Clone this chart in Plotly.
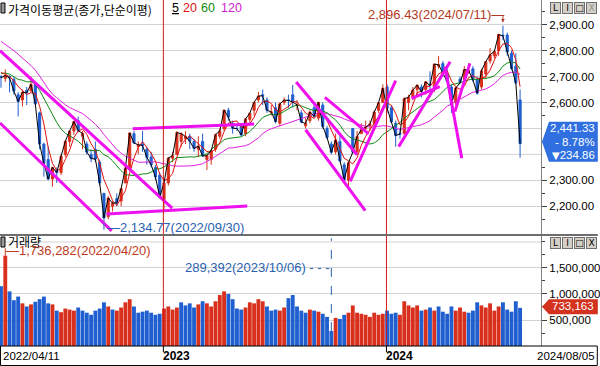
import pandas as pd
import plotly.graph_objects as go

# ---------------- data (weekly) ----------------
week_start = pd.date_range("2022-04-11", periods=122, freq="7D")

open_ = [2700,2693,2700,2690,2630,2610,2647,2645,2670,2560,2440,2380,2305,2340,2330,2400,2450,2490,2530,2470,
         2440,2400,2420,2370,2250,2160,2200,2230,2220,2290,2350,2480,2430,2440,2420,2390,2350,2320,
         2225,2290,2385,2400,2450,2460,2470,2450,2420,2450,2380,2380,2420,2470,2500,2570,2520,2500,2510,2480,
         2535,2570,2610,2630,2610,2560,2580,2520,2600,2610,2630,2590,2560,2510,2530,2580,2540,2590,2500,2440,
         2410,2450,2360,2300,2500,2410,2480,2500,2510,2520,2570,2600,
         2660,2580,2520,2480,2480,2600,2620,2650,2660,2650,2670,2660,2740,2750,2710,2660,2600,2690,2690,2720,
         2730,2690,2660,2710,2760,2780,2800,2860,2860,2790,2740,2610]
high = [2705,2728,2705,2697,2640,2650,2660,2700,2675,2565,2445,2430,2350,2350,2400,2451,2490,2530,2546,2490,
        2450,2420,2450,2380,2250,2240,2220,2250,2270,2360,2483,2490,2450,2490,2430,2410,2360,2330,
        2290,2390,2410,2490,2485,2490,2480,2460,2470,2480,2400,2420,2480,2500,2571,2580,2530,2510,2520,2540,
        2560,2600,2641,2650,2620,2590,2600,2600,2620,2630,2668,2610,2570,2540,2570,2590,2601,2600,2510,2450,
        2480,2470,2370,2370,2500,2490,2520,2530,2530,2570,2600,2670,
        2670,2590,2530,2500,2620,2630,2660,2670,2670,2680,2720,2750,2779,2760,2730,2670,2660,2700,2740,2752,
        2740,2700,2730,2760,2810,2800,2865,2896.43,2870,2800,2790,2650]
low = [2657,2680,2639,2630,2546,2585,2590,2640,2590,2420,2314,2300,2276,2290,2320,2390,2430,2475,2485,2420,
       2400,2370,2370,2280,2134.77,2150,2180,2200,2200,2290,2340,2440,2400,2410,2360,2350,2300,2230,
       2180,2280,2370,2400,2430,2440,2420,2410,2390,2390,2340,2360,2410,2460,2490,2530,2480,2490,2470,2470,
       2510,2550,2600,2590,2560,2550,2520,2510,2590,2580,2580,2570,2520,2500,2520,2540,2530,2500,2460,2400,
       2400,2370,2290,2273,2400,2400,2480,2490,2490,2500,2560,2600,
       2560,2520,2430,2460,2480,2570,2610,2630,2620,2630,2640,2640,2730,2700,2680,2560,2590,2670,2680,2710,
       2680,2630,2650,2690,2750,2770,2780,2840,2780,2725,2670,2387]
close = [2696,2704,2695,2644,2604,2639,2638,2670,2595,2440,2366,2305,2350,2330,2393,2451,2490,2527,2492,2481,
         2409,2384,2382,2290,2155,2232,2212,2213,2268,2348,2483,2444,2437,2434,2389,2360,2313,2236,
         2290,2386,2395,2484,2480,2469,2451,2423,2432,2394,2395,2414,2476,2490,2571,2544,2501,2500,2475,2537,
         2559,2601,2625,2626,2570,2564,2526,2595,2609,2608,2602,2591,2525,2519,2563,2547,2601,2508,2465,2408,
         2456,2375,2302,2368,2409,2469,2496,2505,2517,2563,2599,2655,
         2578,2525,2473,2478,2615,2620,2648,2667,2642,2680,2666,2748,2746,2714,2681,2591,2656,2676,2727,2724,
         2687,2636,2722,2758,2784,2797,2862,2857,2795,2731,2676,2441.33]
volume = [1150000,1736282,1050000,880000,950000,820000,760000,800000,850000,900000,950000,820000,800000,680000,
          650000,720000,700000,680000,740000,680000,640000,600000,680000,720000,840000,760000,700000,680000,
          740000,840000,900000,760000,640000,660000,680000,640000,600000,620000,
          720000,760000,700000,740000,840000,780000,820000,740000,800000,860000,820000,760000,860000,980000,
          1050000,1000000,900000,720000,700000,740000,840000,820000,900000,860000,760000,680000,700000,680000,
          740000,920000,980000,760000,680000,640000,700000,680000,660000,620000,560000,289392,540000,520000,
          600000,640000,780000,640000,620000,600000,560000,640000,600000,620000,
          680000,620000,640000,600000,860000,780000,740000,780000,680000,700000,740000,680000,760000,660000,
          620000,760000,680000,740000,660000,640000,680000,840000,780000,740000,820000,680000,760000,840000,
          700000,660000,860000,733163]
# closes of the 24 weeks before the visible window (for the moving averages)
pre_close = [2970,2969,2968,2971,2936,2968,3010,3017,3012,2977,2954,2921,2834,2663,2750,2747,2744,2676,
             2713,2661,2708,2729,2739,2700]
# hand-drawn trend lines (week index, price) -> (week index, price)
tl_x0 = [-0.23, -0.23, 24.6, 30.7, 68.8, 71.0, 75.5, 81.4, 92.7, 95.7, 103.5, 105.8]
tl_y0 = [2800, 2521, 2170, 2499, 2679, 2495, 2620, 2296, 2430, 2616, 2738, 2565]
tl_x1 = [39.9, 25.8, 57.4, 59.0, 83.0, 84.9, 85.7, 92.0, 104.7, 102.3, 107.4, 109.3]
tl_y1 = [2193, 2105, 2201, 2517, 2399, 2183, 2479, 2684, 2757, 2661, 2385, 2751]

price_ticks = [2200, 2300, 2600, 2700, 2800, 2900]     # labelled price ticks
hidden_price_grid = [2400, 2500]                        # grid rows behind the last-price box
hi_label = "2,896.43(2024/07/11)"
lo_label = "2,134.77(2022/09/30)"
vmax_label = "1,736,282(2022/04/20)"
vmin_label = "289,392(2023/10/06)"
last_info = ["2,441.33", "- 8.78%", "234.86"]
vol_last_label = "733,163"
date_first, date_last = "2022/04/11", "2024/08/05"
ma_names = ["5", "20", "60", "120"]
ma_windows = [1, 4, 12, 24]
ma_colors = ["#000000", "#e01010", "#108a10", "#e020e0"]

# ---------------- helpers ----------------
KFONT = "Noto Sans CJK KR"
NFONT = "Liberation Sans"
RED, BLUE = "#d8301c", "#1f5fcf"
PW, PH = 543, 346
P_TOP, P_BOT, V_TOP, V_BOT = 0, 234, 236, 346
PR = [2093.2, 2995.2]
VR = [0, 2.115e6]
XR = [-0.23, -0.23 + PW / 4.306]

def pxx(px):
    return px / PW

def pxy(py):
    return (PH - py) / PH

def price_py(p):
    return P_TOP + (PR[1] - p) / (PR[1] - PR[0]) * (P_BOT - P_TOP)

def vol_py(v):
    return V_TOP + (VR[1] - v) / (VR[1] - VR[0]) * (V_BOT - V_TOP)

idx = list(range(len(close)))
allc = pd.Series(pre_close + close, dtype=float)
npre = len(pre_close)
ma = [allc.rolling(w).mean().iloc[npre:].tolist() for w in ma_windows]

prev = [pre_close[-1]] + close[:-1]
vcol = [RED if c >= p else BLUE for c, p in zip(close, prev)]

years = list(week_start.year)
x2023 = idx[years.index(2023)] - 0.15
x2024 = idx[years.index(2024)] - 0.15

fig = go.Figure()
fig.add_trace(go.Candlestick(
    x=idx, open=open_, high=high, low=low, close=close, xaxis="x", yaxis="y",
    increasing=dict(line=dict(color=RED, width=1), fillcolor=RED),
    decreasing=dict(line=dict(color=BLUE, width=1), fillcolor=BLUE),
    hoverinfo="skip", showlegend=False))
for k in (3, 2, 1, 0):
    fig.add_trace(go.Scatter(x=idx, y=ma[k], mode="lines", line=dict(color=ma_colors[k], width=1),
                             xaxis="x", yaxis="y", hoverinfo="skip", showlegend=False))
tx, ty = [], []
for a, b, c, d in zip(tl_x0, tl_y0, tl_x1, tl_y1):
    tx += [a, c, None]
    ty += [b, d, None]
fig.add_trace(go.Scatter(x=tx, y=ty, mode="lines", line=dict(color="#ee10ee", width=3),
                         xaxis="x", yaxis="y", hoverinfo="skip", showlegend=False, cliponaxis=True))
fig.add_trace(go.Bar(x=idx, y=volume, marker=dict(color=vcol, line=dict(width=0)),
                     xaxis="x2", yaxis="y2", hoverinfo="skip", showlegend=False))

tickfont = dict(family=NFONT, size=11.5, color="black")
fig.update_layout(
    width=600, height=366, margin=dict(l=0, r=57, t=0, b=20),
    paper_bgcolor="white", plot_bgcolor="white", showlegend=False,
    boxgap=0.3, bargap=0.1, hovermode=False,
    font=dict(family=KFONT, size=12, color="black"),
    xaxis=dict(domain=[0, 1], range=XR, anchor="y", showticklabels=False, showgrid=False,
               zeroline=False, rangeslider=dict(visible=False)),
    xaxis2=dict(domain=[0, 1], range=XR, anchor="y2", matches="x", showticklabels=False,
                showgrid=False, zeroline=False),
    yaxis=dict(domain=[pxy(P_BOT), pxy(P_TOP)], range=PR, side="right", anchor="x",
               tickvals=price_ticks, tickformat=",.2f", ticks="outside",
               ticklen=5, tickcolor="#404040", showline=True, linecolor="#808080",
               showgrid=True, gridcolor="#d2d2d2", zeroline=False, tickfont=tickfont,
               minor=dict(tickvals=list(range(2150, 3000, 100)), ticks="outside", ticklen=3,
                          tickcolor="#404040", showgrid=False)),
    yaxis2=dict(domain=[pxy(V_BOT), pxy(V_TOP)], range=VR, side="right", anchor="x2",
                tickvals=[500000, 1000000, 1500000], tickformat=",", ticks="outside",
                ticklen=5, tickcolor="#404040", showline=True, linecolor="#808080",
                showgrid=True, gridcolor="#d2d2d2", zeroline=False, tickfont=tickfont,
                minor=dict(tickvals=[250000, 750000, 1250000, 1750000, 2000000], ticks="outside",
                           ticklen=3, tickcolor="#404040", showgrid=False)),
)

shapes = []
# grid rows whose labels are covered (2,000,000 by the buttons, 2,400/2,500 by the price box)
shapes.append(dict(type="line", xref="x2", yref="y2", x0=XR[0], x1=XR[1], y0=2.0e6, y1=2.0e6,
                   line=dict(color="#d2d2d2", width=1), layer="below"))
for gv in hidden_price_grid:
    shapes.append(dict(type="line", xref="x", yref="y", x0=XR[0], x1=XR[1], y0=gv, y1=gv,
                       line=dict(color="#d2d2d2", width=1), layer="below"))
for xv in (x2023, x2024):
    shapes.append(dict(type="line", xref="x", yref="paper", x0=xv, x1=xv, y0=0, y1=1,
                       line=dict(color="#d01818", width=1)))
    shapes.append(dict(type="line", xref="x", yref="paper", x0=xv, x1=xv, y0=pxy(346), y1=pxy(352),
                       line=dict(color="black", width=1)))
# separator between panels
shapes.append(dict(type="line", xref="paper", yref="paper", x0=0, x1=pxx(600), y0=pxy(235), y1=pxy(235),
                   line=dict(color="#6e6e6e", width=2)))
# date strip frame
shapes.append(dict(type="rect", xref="paper", yref="paper", x0=pxx(0.5), x1=pxx(599.5), y0=pxy(346),
                   y1=pxy(365.5), line=dict(color="black", width=1)))
# title icons
for ty0 in (3, 237):
    shapes.append(dict(type="rect", xref="paper", yref="paper", x0=pxx(1), x1=pxx(5), y0=pxy(ty0),
                       y1=pxy(ty0 + 10), line=dict(color="black", width=1), fillcolor="#9a9a9a"))
# last price box
yc = price_py(close[-1]) - 2
path = "M {} {} L {} {} L {} {} L {} {} L {} {} Z".format(
    pxx(544), pxy(yc), pxx(551), pxy(yc - 20), pxx(600), pxy(yc - 20), pxx(600), pxy(yc + 20),
    pxx(551), pxy(yc + 20))
shapes.append(dict(type="path", xref="paper", yref="paper", path=path, fillcolor="#2f6fe0",
                   line=dict(width=0), layer="above"))
yv = vol_py(volume[-1]) - 1
path = "M {} {} L {} {} L {} {} L {} {} L {} {} Z".format(
    pxx(544), pxy(yv), pxx(551), pxy(yv - 7.5), pxx(600), pxy(yv - 7.5), pxx(600), pxy(yv + 7.5),
    pxx(551), pxy(yv + 7.5))
shapes.append(dict(type="path", xref="paper", yref="paper", path=path, fillcolor="#d2321e",
                   line=dict(width=0), layer="above"))
# min volume dashed marker
wmin = volume.index(min(volume))
shapes.append(dict(type="line", xref="x2", yref="y2", x0=wmin, x1=wmin, y0=min(volume), y1=2.07e6,
                   line=dict(color="#2a62b0", width=1, dash="dash")))
fig.update_layout(shapes=shapes)

ann = []
ann.append(dict(xref="paper", yref="paper", x=pxx(7), y=1, text="가격이동평균(종가,단순이평)",
                showarrow=False, xanchor="left", yanchor="top", borderpad=0,
                font=dict(family=KFONT, size=12, color="black")))
for name, col, px in zip(ma_names, ma_colors, [172, 183, 201, 221]):
    ann.append(dict(xref="paper", yref="paper", x=pxx(px), y=pxy(8),
                    text=("<u>" + name + "</u>") if name == "5" else name,
                    showarrow=False, xanchor="left", yanchor="middle", borderpad=0,
                    font=dict(family=NFONT, size=12.5, color=("#d020d0" if name == "120" else col))))
ann.append(dict(xref="paper", yref="paper", x=pxx(7), y=pxy(241), text="거래량", showarrow=False,
                xanchor="left", yanchor="middle", borderpad=0,
                font=dict(family=KFONT, size=12, color="black")))
# window buttons
for by, xcol in ((8, "#909090"), (242.5, "black")):
    for i, t in enumerate(["L", "I", "□", "X"]):
        ann.append(dict(xref="paper", yref="paper", x=pxx(557.5 + 12 * i), y=pxy(by), text=t,
                        showarrow=False, xanchor="center", yanchor="middle", width=9, height=10,
                        bgcolor="#d4d0c8", bordercolor="#707070", borderwidth=1, borderpad=0,
                        font=dict(family="DejaVu Sans", size=9,
                                  color=(xcol if t == "X" else "black"))))
# extreme labels
whi = high.index(max(high))
wlo = low.index(min(low))
wvmax = volume.index(max(volume))
ann.append(dict(xref="x", yref="y", x=whi, y=max(high), text=hi_label + "\u2014", showarrow=False,
                xanchor="right", yanchor="middle", xshift=2, yshift=11, borderpad=0,
                font=dict(family=NFONT, size=13, color="#b23a24")))
ann.append(dict(xref="x", yref="y", x=whi, y=max(high), text="", showarrow=True, ax=0, ay=-11,
                arrowhead=2, arrowsize=0.7, arrowwidth=1, arrowcolor="#b23a24", standoff=3))
ann.append(dict(xref="x", yref="y", x=wlo, y=min(low), text="\u2014" + lo_label, showarrow=False,
                xanchor="left", yanchor="middle", xshift=2, yshift=-4, borderpad=0,
                font=dict(family=NFONT, size=13, color="#2a62b0")))
ann.append(dict(xref="x", yref="y", x=wlo, y=min(low), text="", showarrow=True, ax=0, ay=8,
                arrowhead=0, arrowwidth=1, arrowcolor="#2a62b0"))
ann.append(dict(xref="x2", yref="y2", x=wvmax, y=max(volume), text="\u2014" + vmax_label, showarrow=False,
                xanchor="left", yanchor="middle", xshift=0, yshift=5, borderpad=0,
                font=dict(family=NFONT, size=13, color="#c03a20")))
ann.append(dict(xref="x2", yref="y2", x=wvmax, y=max(volume), text="", showarrow=True, ax=0, ay=-9,
                arrowhead=0, arrowwidth=1, arrowcolor="#c03a20"))
ann.append(dict(xref="x2", yref="y2", x=wmin, y=1.5e6, text=vmin_label + " - - -", showarrow=False,
                xanchor="right", yanchor="middle", xshift=0, borderpad=0,
                font=dict(family=NFONT, size=13, color="#2a62b0")))
# last price box text
for k, t in enumerate(last_info):
    if k == 2:
        t = "<span style='font-family:DejaVu Sans;font-size:10px'>\u25bc</span>" + t
    ann.append(dict(xref="paper", yref="paper", x=pxx(598), y=pxy(yc - 13.5 + 13.5 * k), text=t,
                    showarrow=False, xanchor="right", yanchor="middle", borderpad=0,
                    font=dict(family=NFONT, size=11.5, color="white")))
ann.append(dict(xref="paper", yref="paper", x=pxx(597), y=pxy(yv - 0.5), text=vol_last_label,
                showarrow=False, xanchor="right", yanchor="middle", borderpad=0,
                font=dict(family=NFONT, size=11.5, color="white")))
# date strip labels
ann.append(dict(xref="paper", yref="paper", x=pxx(2), y=pxy(356), text=date_first, showarrow=False,
                xanchor="left", yanchor="middle", borderpad=0,
                font=dict(family=NFONT, size=11.5, color="black")))
ann.append(dict(xref="paper", yref="paper", x=pxx(598), y=pxy(356), text=date_last, showarrow=False,
                xanchor="right", yanchor="middle", borderpad=0,
                font=dict(family=NFONT, size=11.5, color="black")))
for xv, t in ((x2023, "2023"), (x2024, "2024")):
    ann.append(dict(xref="x", yref="paper", x=xv, y=pxy(356), text="<b>" + t + "</b>", showarrow=False,
                    xanchor="left", yanchor="middle", xshift=-1, borderpad=0,
                    font=dict(family=NFONT, size=12, color="black")))
fig.update_layout(annotations=ann)

fig.write_html("out.html")
